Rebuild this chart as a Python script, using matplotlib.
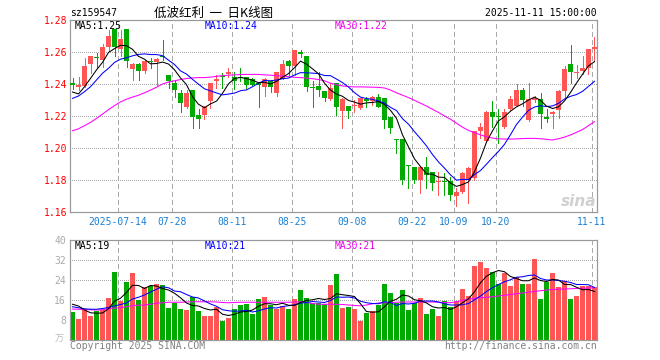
import matplotlib
matplotlib.use('Agg')
import matplotlib.pyplot as plt
from matplotlib.transforms import blended_transform_factory

# ---------------- data ----------------
opens = [1.2408, 1.2383, 1.2390, 1.2527, 1.2567, 1.2550, 1.2633, 1.2744, 1.2617, 1.2744,
         1.2494, 1.2525, 1.2483, 1.2542, 1.2540, 1.2577, 1.2456, 1.2408, 1.2344, 1.2254,
         1.2363, 1.2206, 1.2206, 1.2294, 1.2421, 1.2448, 1.2463, 1.2446, 1.2446, 1.2442,
         1.2431, 1.2404, 1.2383, 1.2420, 1.2346, 1.2431, 1.2544, 1.2513, 1.2598, 1.2575,
         1.2383, 1.2385, 1.2356, 1.2306, 1.2404, 1.2231, 1.2263, 1.2260, 1.2248, 1.2306,
         1.2296, 1.2321, 1.2310, 1.2192, 1.2056, 1.2056, 1.1890, 1.1881, 1.1800, 1.1881,
         1.1848, 1.1790, 1.1796, 1.1796, 1.1700, 1.1727, 1.1800, 1.1810, 1.2106, 1.2044,
         1.2223, 1.2198, 1.2133, 1.2244, 1.2265, 1.2363, 1.2175, 1.2302, 1.2306, 1.2196,
         1.2210, 1.2238, 1.2356, 1.2525, 1.2469, 1.2481, 1.2502, 1.2617]
highs = [1.2435, 1.2446, 1.2560, 1.2575, 1.2592, 1.2648, 1.2738, 1.2746, 1.2738, 1.2746,
         1.2533, 1.2529, 1.2550, 1.2565, 1.2565, 1.2675, 1.2456, 1.2421, 1.2363, 1.2363,
         1.2363, 1.2242, 1.2265, 1.2408, 1.2456, 1.2467, 1.2502, 1.2477, 1.2502, 1.2446,
         1.2435, 1.2408, 1.2435, 1.2425, 1.2475, 1.2550, 1.2548, 1.2613, 1.2613, 1.2577,
         1.2420, 1.2477, 1.2358, 1.2408, 1.2406, 1.2310, 1.2265, 1.2300, 1.2312, 1.2321,
         1.2327, 1.2338, 1.2312, 1.2194, 1.2056, 1.2058, 1.1890, 1.1883, 1.1883, 1.1946,
         1.1852, 1.1852, 1.1842, 1.1821, 1.1748, 1.1852, 1.1883, 1.2106, 1.2154, 1.2231,
         1.2294, 1.2244, 1.2244, 1.2327, 1.2398, 1.2377, 1.2404, 1.2325, 1.2342, 1.2244,
         1.2231, 1.2360, 1.2515, 1.2644, 1.2519, 1.2577, 1.2617, 1.2696]
lows = [1.2369, 1.2363, 1.2383, 1.2467, 1.2498, 1.2508, 1.2606, 1.2577, 1.2577, 1.2508,
        1.2425, 1.2425, 1.2471, 1.2498, 1.2390, 1.2550, 1.2377, 1.2321, 1.2227, 1.2248,
        1.2127, 1.2123, 1.2179, 1.2252, 1.2373, 1.2373, 1.2446, 1.2369, 1.2420, 1.2373,
        1.2385, 1.2258, 1.2327, 1.2352, 1.2325, 1.2431, 1.2456, 1.2456, 1.2571, 1.2356,
        1.2258, 1.2325, 1.2294, 1.2300, 1.2206, 1.2127, 1.2190, 1.2227, 1.2244, 1.2254,
        1.2269, 1.2254, 1.2123, 1.2092, 1.1967, 1.1773, 1.1748, 1.1779, 1.1721, 1.1748,
        1.1737, 1.1706, 1.1706, 1.1675, 1.1640, 1.1720, 1.1654, 1.1800, 1.2060, 1.2040,
        1.2133, 1.2029, 1.2125, 1.2238, 1.2260, 1.2265, 1.2169, 1.2290, 1.2127, 1.2160,
        1.2127, 1.2190, 1.2310, 1.2408, 1.2435, 1.2460, 1.2460, 1.2544]
closes = [1.2396, 1.2394, 1.2515, 1.2575, 1.2560, 1.2633, 1.2702, 1.2633, 1.2681, 1.2546,
          1.2523, 1.2483, 1.2544, 1.2535, 1.2556, 1.2569, 1.2421, 1.2363, 1.2283, 1.2344,
          1.2196, 1.2181, 1.2254, 1.2404, 1.2429, 1.2442, 1.2477, 1.2419, 1.2438, 1.2394,
          1.2394, 1.2396, 1.2431, 1.2383, 1.2475, 1.2525, 1.2513, 1.2613, 1.2588, 1.2383,
          1.2377, 1.2360, 1.2315, 1.2375, 1.2258, 1.2306, 1.2231, 1.2265, 1.2310, 1.2296,
          1.2321, 1.2258, 1.2175, 1.2123, 1.2052, 1.1800, 1.1885, 1.1800, 1.1881, 1.1831,
          1.1783, 1.1796, 1.1790, 1.1706, 1.1727, 1.1842, 1.1877, 1.2106, 1.2131, 1.2227,
          1.2196, 1.2192, 1.2227, 1.2306, 1.2363, 1.2300, 1.2306, 1.2313, 1.2210, 1.2181,
          1.2227, 1.2356, 1.2494, 1.2477, 1.2475, 1.2502, 1.2617, 1.2631]
ma5 = [1.2350, 1.2338, 1.2383, 1.2435, 1.2488, 1.2535, 1.2597, 1.2621, 1.2642, 1.2639,
       1.2617, 1.2573, 1.2555, 1.2526, 1.2528, 1.2537, 1.2525, 1.2489, 1.2438, 1.2396,
       1.2321, 1.2273, 1.2252, 1.2276, 1.2293, 1.2342, 1.2401, 1.2434, 1.2441, 1.2434,
       1.2424, 1.2408, 1.2411, 1.2400, 1.2416, 1.2442, 1.2465, 1.2502, 1.2543, 1.2524,
       1.2495, 1.2464, 1.2405, 1.2362, 1.2337, 1.2323, 1.2297, 1.2287, 1.2274, 1.2282,
       1.2285, 1.2290, 1.2272, 1.2235, 1.2186, 1.2082, 1.2007, 1.1932, 1.1884, 1.1839,
       1.1836, 1.1818, 1.1816, 1.1781, 1.1760, 1.1772, 1.1788, 1.1852, 1.1937, 1.2037,
       1.2107, 1.2170, 1.2195, 1.2230, 1.2257, 1.2276, 1.2300, 1.2318, 1.2298, 1.2262,
       1.2247, 1.2257, 1.2294, 1.2347, 1.2406, 1.2461, 1.2513, 1.2540]
ma10 = [1.2310, 1.2325, 1.2352, 1.2383, 1.2425, 1.2467, 1.2498, 1.2535, 1.2555, 1.2564,
        1.2576, 1.2585, 1.2588, 1.2584, 1.2584, 1.2577, 1.2549, 1.2522, 1.2482, 1.2462,
        1.2429, 1.2399, 1.2370, 1.2357, 1.2344, 1.2332, 1.2337, 1.2343, 1.2358, 1.2363,
        1.2383, 1.2405, 1.2422, 1.2420, 1.2425, 1.2433, 1.2437, 1.2456, 1.2471, 1.2470,
        1.2468, 1.2465, 1.2453, 1.2452, 1.2431, 1.2409, 1.2381, 1.2346, 1.2318, 1.2309,
        1.2304, 1.2294, 1.2280, 1.2254, 1.2234, 1.2183, 1.2149, 1.2102, 1.2059, 1.2013,
        1.1959, 1.1913, 1.1874, 1.1832, 1.1799, 1.1804, 1.1803, 1.1834, 1.1859, 1.1899,
        1.1940, 1.1979, 1.2023, 1.2083, 1.2147, 1.2193, 1.2235, 1.2256, 1.2264, 1.2259,
        1.2263, 1.2279, 1.2306, 1.2323, 1.2334, 1.2354, 1.2385, 1.2417]
ma30 = [1.2108, 1.2120, 1.2140, 1.2160, 1.2185, 1.2212, 1.2240, 1.2265, 1.2288, 1.2305,
        1.2318, 1.2330, 1.2345, 1.2362, 1.2380, 1.2400, 1.2412, 1.2420, 1.2428, 1.2434,
        1.2438, 1.2440, 1.2440, 1.2443, 1.2448, 1.2452, 1.2455, 1.2457, 1.2459, 1.2460,
        1.2460, 1.2460, 1.2457, 1.2455, 1.2452, 1.2450, 1.2446, 1.2442, 1.2440, 1.2437,
        1.2433, 1.2428, 1.2420, 1.2405, 1.2395, 1.2388, 1.2384, 1.2382, 1.2382, 1.2381,
        1.2380, 1.2379, 1.2375, 1.2362, 1.2345, 1.2330, 1.2315, 1.2298, 1.2280, 1.2262,
        1.2242, 1.2222, 1.2200, 1.2180, 1.2155, 1.2130, 1.2110, 1.2095, 1.2082, 1.2070,
        1.2062, 1.2057, 1.2056, 1.2056, 1.2057, 1.2059, 1.2060, 1.2060, 1.2058, 1.2054,
        1.2050, 1.2058, 1.2068, 1.2082, 1.2098, 1.2115, 1.2140, 1.2165]
volumes = [11.3, 8.4, 12.3, 9.6, 11.7, 12.0, 16.8, 27.2, 15.6, 23.2,
           26.8, 16.0, 21.2, 21.6, 22.4, 22.0, 12.8, 14.8, 12.4, 12.0,
           17.2, 11.6, 9.6, 9.6, 13.3, 7.6, 8.8, 12.4, 14.0, 14.4,
           10.4, 16.4, 17.2, 14.0, 12.4, 13.6, 12.4, 16.4, 20.0, 16.8,
           14.8, 14.8, 14.4, 22.0, 26.4, 12.8, 13.2, 12.4, 7.6, 10.8,
           11.6, 14.0, 22.4, 18.8, 14.8, 20.0, 12.0, 14.8, 16.8, 10.4,
           12.4, 9.6, 15.6, 13.2, 15.6, 20.4, 17.6, 29.6, 31.2, 28.8,
           27.2, 22.4, 26.8, 21.6, 25.2, 22.4, 22.4, 32.4, 16.4, 23.2,
           26.8, 21.2, 23.6, 16.4, 17.6, 21.6, 21.6, 21.2]
vol_ma5 = [14.3, 13.6, 12.0, 10.9, 10.7, 10.8, 12.5, 15.5, 16.7, 19.0,
           21.9, 21.8, 20.6, 21.8, 21.6, 20.6, 20.0, 18.7, 16.9, 14.8,
           13.8, 13.6, 12.6, 12.0, 12.3, 10.3, 9.8, 10.3, 11.2, 11.4,
           12.0, 13.5, 14.5, 14.5, 14.1, 14.7, 13.9, 13.8, 15.0, 15.8,
           16.1, 16.6, 16.2, 16.6, 18.5, 18.1, 17.8, 17.4, 14.5, 11.4,
           11.1, 11.3, 13.3, 15.5, 16.3, 18.0, 17.6, 16.1, 15.7, 14.8,
           13.3, 12.8, 13.0, 12.2, 13.3, 14.9, 16.5, 19.3, 22.9, 25.5,
           26.9, 27.8, 27.3, 25.4, 24.6, 23.7, 23.7, 24.8, 23.8, 23.4,
           24.2, 24.0, 22.2, 22.2, 21.1, 20.1, 20.2, 19.4]
vol_ma10 = [13.3, 12.9, 12.5, 12.3, 12.3, 12.6, 13.0, 13.6, 14.2, 14.8,
            16.4, 17.1, 18.0, 19.2, 20.3, 21.3, 20.9, 19.6, 19.3, 18.2,
            17.2, 16.8, 15.6, 14.4, 13.5, 12.1, 11.7, 11.5, 11.6, 11.9,
            11.2, 11.7, 12.4, 12.9, 12.8, 13.4, 13.7, 14.1, 14.7, 15.0,
            15.4, 15.2, 15.0, 15.8, 17.2, 17.1, 17.2, 16.8, 15.5, 14.9,
            14.6, 14.5, 15.3, 15.0, 13.8, 14.6, 14.4, 14.7, 15.6, 15.6,
            15.6, 15.2, 14.5, 14.0, 14.0, 14.1, 14.6, 16.1, 17.6, 19.4,
            20.9, 22.2, 23.3, 24.1, 25.1, 25.3, 25.8, 26.0, 24.6, 24.0,
            24.0, 23.8, 23.5, 23.0, 22.2, 22.2, 22.1, 21.0]
vol_ma30 = [12.4, 12.3, 12.2, 12.1, 12.0, 12.1, 12.5, 12.8, 12.9, 13.3,
            13.8, 13.9, 14.0, 14.3, 14.7, 14.9, 15.1, 15.1, 15.1, 15.2,
            15.3, 15.3, 15.3, 15.3, 15.2, 15.0, 14.9, 15.0, 15.1, 15.1,
            15.1, 15.1, 15.1, 15.1, 15.1, 15.1, 15.1, 15.2, 15.3, 15.0,
            14.6, 14.3, 14.3, 14.3, 14.3, 14.2, 14.0, 13.8, 13.7, 14.0,
            14.5, 14.8, 14.9, 15.0, 15.1, 15.2, 15.2, 15.2, 15.2, 15.2,
            15.2, 15.1, 15.0, 14.9, 15.3, 15.9, 16.3, 16.7, 16.9, 17.1,
            17.3, 17.6, 17.9, 18.2, 18.5, 18.8, 19.1, 19.4, 19.7, 20.0,
            20.2, 20.3, 20.4, 20.5, 20.6, 20.7, 20.8, 20.9]
tick_labels = ['2025-07-14', '07-28', '08-11', '08-25', '09-08', '09-22', '10-09', '10-20', '11-11']
tick_bars = [8, 17, 27, 37, 47, 57, 64, 71, 87]
price_ticks = [1.16, 1.18, 1.20, 1.22, 1.24, 1.26, 1.28]
vol_ticks = [8, 16, 24, 32, 40]
code = 'sz159547'
title = '低波红利  一  日K线图'
timestamp = '2025-11-11 15:00:00'

# ---------------- style ----------------
W, H = 660, 360
RED = '#ff5555'
GREEN = '#00aa00'
GRID = '#aaaaaa'
FRAME = '#999999'
MONO = 'DejaVu Sans Mono'
FS = 7
PX = 72.0 / 100.0   # one pixel in points

fig = plt.figure(figsize=(6.6, 3.6), dpi=100)
fig.patch.set_facecolor('white')

def fx(px):
    return px / W

def fy(py):
    return 1 - py / H

L, R = 70, 597
ax = fig.add_axes([fx(L), fy(212), fx(R) - fx(L), fy(20) - fy(212)])
axv = fig.add_axes([fx(L), fy(340), fx(R) - fx(L), fy(240) - fy(340)])

n = len(closes)
half = 2.5 / 6.0
xs = list(range(n))
bw = 5.0 / 6.0

for a in (ax, axv):
    a.set_xlim(-half, n - 1 + half)
    for s in a.spines.values():
        s.set_color(FRAME)
        s.set_linewidth(1.2 * PX)
    a.tick_params(axis='both', length=0)
    a.set_xticks([])
    for b in tick_bars:
        a.axvline(b - half, color=GRID, lw=PX, ls=(0, (5, 3)), zorder=0.5, antialiased=False)

ax.set_ylim(1.16, 1.28)
axv.set_ylim(0, 40)

for p in price_ticks[1:-1]:
    ax.axhline(p, color=GRID, lw=PX, ls=(0, (1, 2)), zorder=0.5, antialiased=False)
for v in vol_ticks[:-1]:
    axv.axhline(v, color=GRID, lw=PX, ls=(0, (1, 2)), zorder=0.5, antialiased=False)

ax.set_yticks(price_ticks)
ax.set_yticklabels([f'{p:.2f}' for p in price_ticks], fontsize=FS, family=MONO, color='red')
ax.tick_params(axis='y', pad=3 * PX)
axv.set_yticks(vol_ticks)
axv.set_yticklabels([str(v) for v in vol_ticks], fontsize=FS, family=MONO, color='#aaaaaa')
axv.tick_params(axis='y', pad=4 * PX)

# candles
for i in xs:
    o, h, l, c = opens[i], highs[i], lows[i], closes[i]
    col = RED if c >= o else GREEN
    ax.vlines(i, l, h, color=col, lw=PX * 0.6, antialiased=False, zorder=2)
    bot = min(o, c)
    hgt = max(abs(c - o), 0.0006)
    ax.bar(i, hgt, bottom=bot, width=bw, color=col, linewidth=0, antialiased=False, zorder=3)

LW = PX * 1.05
ax.plot(xs, ma30, color='#ff00ff', lw=LW, zorder=4)
ax.plot(xs, ma10, color='#0000ff', lw=LW, zorder=4)
ax.plot(xs, ma5, color='black', lw=LW, zorder=4)

# volume
vcols = [RED if closes[i] >= opens[i] else GREEN for i in xs]
axv.bar(xs, volumes, width=bw, color=vcols, linewidth=0, antialiased=False, zorder=2)
axv.plot(xs, vol_ma30, color='#ff00ff', lw=LW, zorder=4)
axv.plot(xs, vol_ma10, color='#0000ff', lw=LW, zorder=4)
axv.plot(xs, vol_ma5, color='black', lw=LW, zorder=4)

# date labels
tr = blended_transform_factory(ax.transData, fig.transFigure)
for b, lab in zip(tick_bars, tick_labels):
    ax.text(b - half, fy(222), lab, transform=tr, ha='center', va='center',
            fontsize=FS, family=MONO, color='#1a7fd4', clip_on=False)

# texts
def ftext(px, py, s, **kw):
    fig.text(fx(px), fy(py), s, **kw)

ftext(70, 13, code, ha='left', va='center', fontsize=FS, family=MONO, color='black')
ftext(214, 13, title, ha='center', va='center', fontsize=9,
      family=['Noto Sans CJK SC', 'DejaVu Sans'], color='black')
ftext(597, 13, timestamp, ha='right', va='center', fontsize=FS, family=MONO, color='black')

ftext(75, 26, f'MA5:{ma5[-1]:.2f}', ha='left', va='center', fontsize=FS, family=MONO, color='black')
ftext(205, 26, f'MA10:{ma10[-1]:.2f}', ha='left', va='center', fontsize=FS, family=MONO, color='#0000ff')
ftext(335, 26, f'MA30:{ma30[-1]:.2f}', ha='left', va='center', fontsize=FS, family=MONO, color='#ee00ee')

ftext(75, 246, f'MA5:{vol_ma5[-1]:.0f}', ha='left', va='center', fontsize=FS, family=MONO, color='black')
ftext(205, 246, f'MA10:{vol_ma10[-1]:.0f}', ha='left', va='center', fontsize=FS, family=MONO, color='#0000ff')
ftext(335, 246, f'MA30:{vol_ma30[-1]:.0f}', ha='left', va='center', fontsize=FS, family=MONO, color='#ee00ee')

ftext(70, 346, 'Copyright 2025 SINA.COM', ha='left', va='center', fontsize=FS, family=MONO, color='#808080')
ftext(597, 346, 'http://finance.sina.com.cn', ha='right', va='center', fontsize=FS, family=MONO, color='#808080')
ftext(64, 339, '万', ha='right', va='center', fontsize=6.5,
      family=['Noto Sans CJK SC', 'DejaVu Sans'], color='#bbbbbb')

ftext(579, 201, 'sina', ha='center', va='center', fontsize=11, fontweight='bold',
      style='italic', family='DejaVu Sans', color='#d0d0d0')

fig.savefig('out.png', dpi=100, facecolor='white')
